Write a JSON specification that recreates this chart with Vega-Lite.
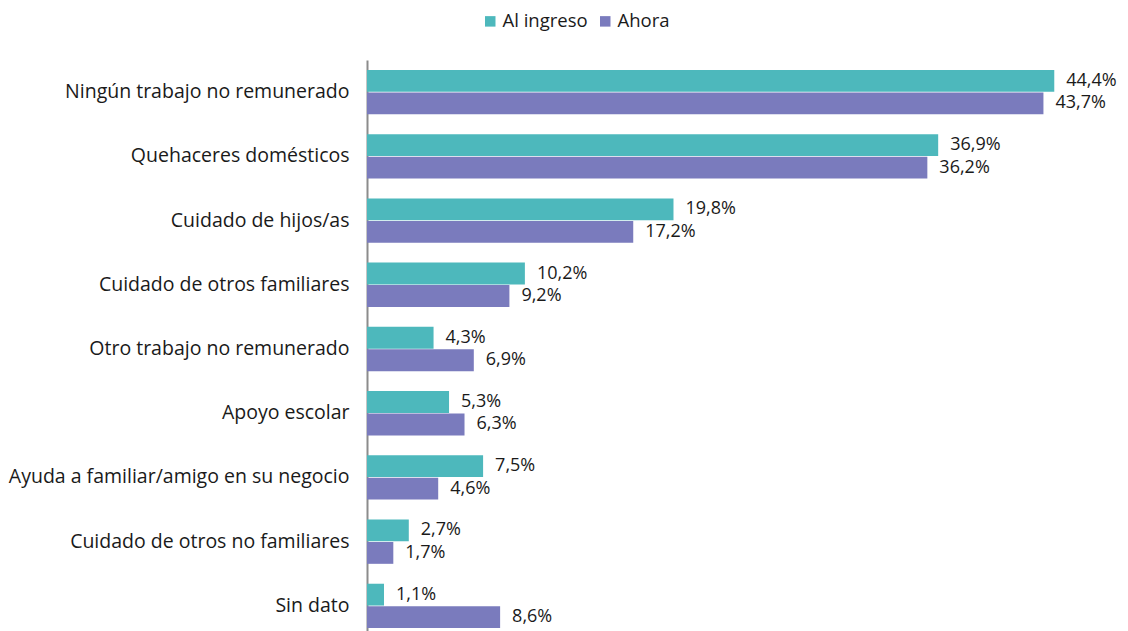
{
  "$schema": "https://vega.github.io/schema/vega-lite/v6.json",
  "autosize": "none",
  "width": 743,
  "height": 578,
  "padding": {"left": 367, "top": 60, "right": 18, "bottom": 0},
  "background": "white",
  "config": {
    "view": {"stroke": null},
    "font": "Open Sans"
  },
  "data": {
    "values": [
      {"categoria": "Ningún trabajo no remunerado", "serie": "Al ingreso", "valor": 44.4},
      {"categoria": "Ningún trabajo no remunerado", "serie": "Ahora", "valor": 43.7},
      {"categoria": "Quehaceres domésticos", "serie": "Al ingreso", "valor": 36.9},
      {"categoria": "Quehaceres domésticos", "serie": "Ahora", "valor": 36.2},
      {"categoria": "Cuidado de hijos/as", "serie": "Al ingreso", "valor": 19.8},
      {"categoria": "Cuidado de hijos/as", "serie": "Ahora", "valor": 17.2},
      {"categoria": "Cuidado de otros familiares", "serie": "Al ingreso", "valor": 10.2},
      {"categoria": "Cuidado de otros familiares", "serie": "Ahora", "valor": 9.2},
      {"categoria": "Otro trabajo no remunerado", "serie": "Al ingreso", "valor": 4.3},
      {"categoria": "Otro trabajo no remunerado", "serie": "Ahora", "valor": 6.9},
      {"categoria": "Apoyo escolar", "serie": "Al ingreso", "valor": 5.3},
      {"categoria": "Apoyo escolar", "serie": "Ahora", "valor": 6.3},
      {"categoria": "Ayuda a familiar/amigo en su negocio", "serie": "Al ingreso", "valor": 7.5},
      {"categoria": "Ayuda a familiar/amigo en su negocio", "serie": "Ahora", "valor": 4.6},
      {"categoria": "Cuidado de otros no familiares", "serie": "Al ingreso", "valor": 2.7},
      {"categoria": "Cuidado de otros no familiares", "serie": "Ahora", "valor": 1.7},
      {"categoria": "Sin dato", "serie": "Al ingreso", "valor": 1.1},
      {"categoria": "Sin dato", "serie": "Ahora", "valor": 8.6}
    ]
  },
  "transform": [
    {"calculate": "replace(format(datum.valor, '.1f'), '.', ',') + '%'", "as": "etiqueta"}
  ],
  "encoding": {
    "y": {
      "field": "categoria",
      "type": "nominal",
      "sort": null,
      "scale": {"paddingInner": 0.31, "paddingOuter": 0.155},
      "axis": {
        "title": null,
        "ticks": false,
        "labelFontSize": 19.5,
        "labelColor": "#1a1a1a",
        "labelPadding": 18,
        "domainColor": "#8c8c8c",
        "domainWidth": 2,
        "labelLimit": 400
      }
    },
    "yOffset": {
      "field": "serie",
      "type": "nominal",
      "sort": ["Al ingreso", "Ahora"],
      "scale": {"paddingInner": 0.03}
    },
    "x": {
      "field": "valor",
      "type": "quantitative",
      "scale": {"domain": [0, 48], "nice": false},
      "axis": null
    }
  },
  "layer": [
    {
      "mark": {"type": "bar"},
      "encoding": {
        "color": {
          "field": "serie",
          "type": "nominal",
          "sort": ["Al ingreso", "Ahora"],
          "scale": {"domain": ["Al ingreso", "Ahora"], "range": ["#4db8bc", "#7a7bbd"]},
          "legend": {
            "title": null,
            "orient": "none",
            "direction": "horizontal",
            "legendX": 114,
            "legendY": -48,
            "symbolType": "square",
            "symbolSize": 110,
            "symbolStrokeWidth": 0,
            "labelFontSize": 18.5,
            "labelColor": "#1a1a1a",
            "labelOffset": 3,
            "columnPadding": 8
          }
        }
      }
    },
    {
      "mark": {"type": "text", "align": "left", "baseline": "middle", "dx": 12, "fontSize": 18, "color": "#1a1a1a"},
      "encoding": {
        "text": {"field": "etiqueta"}
      }
    }
  ]
}
